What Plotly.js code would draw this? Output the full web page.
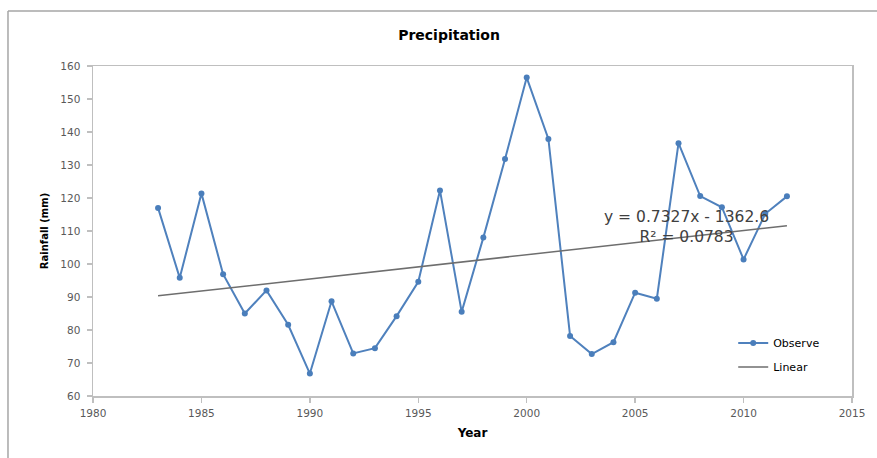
<!DOCTYPE html>
<html>
<head>
<meta charset="utf-8">
<script src="https://cdn.plot.ly/plotly-3.0.1.min.js"></script>
<style>
html,body{margin:0;padding:0;background:#fff;}
#chart{width:877px;height:458px;}
</style>
</head>
<body>
<div id="chart"></div>
<script>
const years = [1983,1984,1985,1986,1987,1988,1989,1990,1991,1992,1993,1994,1995,1996,1997,1998,1999,2000,2001,2002,2003,2004,2005,2006,2007,2008,2009,2010,2011,2012];
const rainfall = [117.0,95.8,121.4,96.9,85.0,92.0,81.6,66.8,88.7,72.9,74.5,84.2,94.6,122.3,85.5,108.0,131.8,156.5,137.9,78.2,72.7,76.3,91.3,89.5,136.6,120.6,117.2,101.4,115.2,120.5];
const trendSlope = 0.7327;
const trendIntercept = -1362.6;
const trendR2 = 0.0783;
const xTicks = [1980,1985,1990,1995,2000,2005,2010,2015];
const yTicks = [60,70,80,90,100,110,120,130,140,150,160];

const trendX = [years[0], years[years.length-1]];
const trendY = trendX.map(x => trendSlope*x + trendIntercept);

const FONT = '"DejaVu Sans", "Liberation Sans", sans-serif';

const traces = [
  {
    x: years, y: rainfall, name: 'Observe', type: 'scatter', mode: 'lines+markers',
    legendgroup: 'a',
    line: {color: '#4f81bd', width: 2},
    marker: {color: '#4a7ebb', size: 6, symbol: 'circle'}
  },
  {
    x: trendX, y: trendY, name: 'Linear', type: 'scatter', mode: 'lines',
    legendgroup: 'b',
    line: {color: '#6e6e6e', width: 1.5}
  }
];

const layout = {
  width: 877, height: 458,
  margin: {l: 93, r: 25, t: 66, b: 62},
  paper_bgcolor: '#ffffff', plot_bgcolor: '#ffffff',
  font: {family: FONT, color: '#595959', size: 10},
  title: {text: '<b>Precipitation</b>', x: 0.512, xanchor: 'center', y: 0.924, yanchor: 'middle',
          font: {family: FONT, size: 14, color: '#000000'}},
  xaxis: {
    range: [1980, 2015], tickvals: xTicks, ticktext: xTicks.map(String),
    showgrid: false, zeroline: false,
    showline: true, linecolor: '#bfbfbf', linewidth: 1.5, mirror: true,
    ticks: 'outside', ticklen: 5, tickcolor: '#bfbfbf', tickwidth: 1.5,
    ticklabelstandoff: 2,
    tickfont: {family: FONT, size: 10.5, color: '#595959'},
    title: {text: '<b>Year</b>', standoff: 10, font: {family: FONT, size: 12, color: '#000000'}}
  },
  yaxis: {
    range: [60, 160], tickvals: yTicks,
    showgrid: false, zeroline: false,
    showline: true, linecolor: '#bfbfbf', linewidth: 1.5, mirror: true,
    ticks: 'outside', ticklen: 5, tickcolor: '#bfbfbf', tickwidth: 1.5,
    ticklabelstandoff: 4,
    tickfont: {family: FONT, size: 10.5, color: '#595959'},
    title: {text: '<b>Rainfall (mm)</b>', standoff: 10, font: {family: FONT, size: 10, color: '#000000'}}
  },
  showlegend: true,
  legend: {x: 0.8435, y: 0.124, xanchor: 'left', yanchor: 'middle', bgcolor: 'rgba(0,0,0,0)',
           tracegroupgap: 5,
           font: {family: FONT, size: 11, color: '#000000'}, itemwidth: 30},
  annotations: [
    {xref: 'x', yref: 'y', x: 2007.35, y: 111.3, xanchor: 'center', yanchor: 'middle',
     text: 'y = ' + trendSlope + 'x - ' + Math.abs(trendIntercept) + '<br>R² = ' + trendR2,
     showarrow: false, align: 'center',
     font: {family: FONT, size: 15.5, color: '#404040'}}
  ],
  shapes: [
    {type: 'line', xref: 'paper', yref: 'paper', x0: -0.112, x1: 1.04, y0: 1.1667, y1: 1.1667,
     line: {color: '#a6a6a6', width: 1.5}},
    {type: 'line', xref: 'paper', yref: 'paper', x0: -0.112, x1: -0.112, y0: 1.1667, y1: -0.2,
     line: {color: '#a6a6a6', width: 1.5}}
  ]
};

Plotly.newPlot('chart', traces, layout, {displayModeBar: false, staticPlot: true});
</script>
</body>
</html>
